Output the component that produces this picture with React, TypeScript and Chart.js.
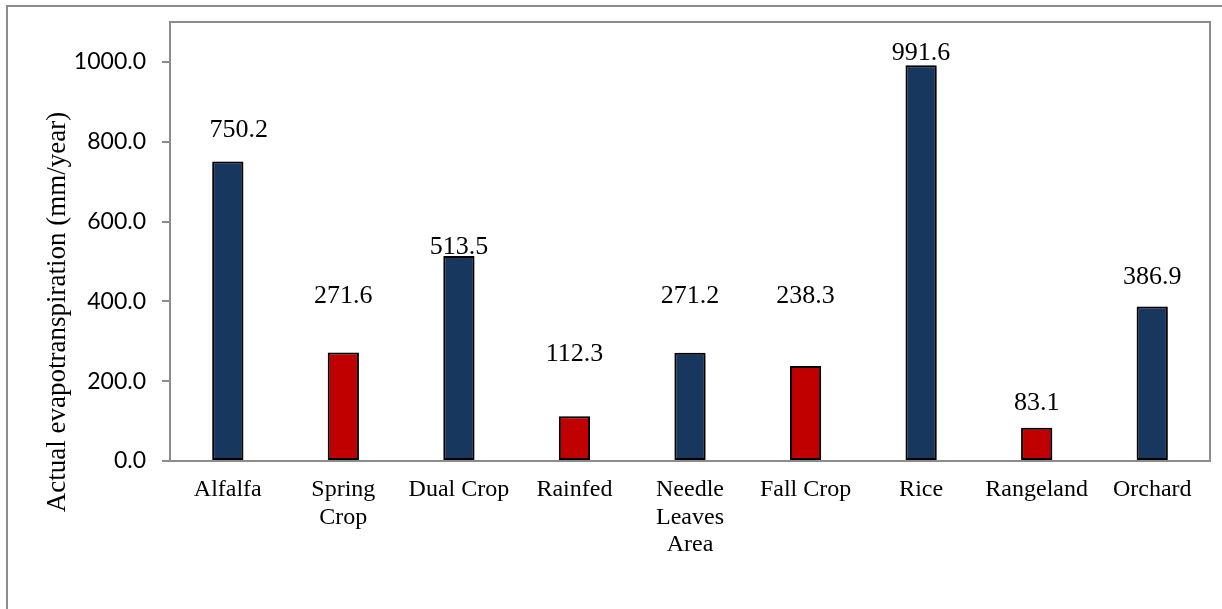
import React, { useEffect, useRef } from "react";
import { Chart, registerables } from "chart.js";

Chart.register(...registerables);

// ---- data ----
const categories: (string | string[])[] = [
  "Alfalfa",
  ["Spring", "Crop"],
  "Dual Crop",
  "Rainfed",
  ["Needle", "Leaves", "Area"],
  "Fall Crop",
  "Rice",
  "Rangeland",
  "Orchard",
];
const etValues = [750.2, 271.6, 513.5, 112.3, 271.2, 238.3, 991.6, 83.1, 386.9];
const barColors = [
  "#17375E", "#C00000", "#17375E", "#C00000", "#17375E",
  "#C00000", "#17375E", "#C00000", "#17375E",
];
const yTickValues = [0, 200, 400, 600, 800, 1000];
const yTitle = "Actual evapotranspiration (mm/year)";

// ---- label placement (px, layout only) ----
const labelLift = [33, 58, 11, 64, 58, 71, 14, 26, 31];
const labelShiftX = [11, 0, 0, 0, 0, 0, 0, 0, 0];

const GRAY = "#8c8c8c";

const framePlugin = {
  id: "frame",
  beforeDraw(chart: any) {
    const ctx = chart.ctx;
    ctx.save();
    ctx.fillStyle = "#ffffff";
    ctx.fillRect(0, 0, chart.width, chart.height);
    ctx.strokeStyle = GRAY;
    ctx.lineWidth = 2;
    ctx.strokeRect(7, 6, chart.width + 50, chart.height + 50);
    ctx.restore();
  },
  beforeDatasetsDraw(chart: any) {
    const ctx = chart.ctx;
    const a = chart.chartArea;
    ctx.save();
    ctx.strokeStyle = GRAY;
    ctx.lineWidth = 2;
    ctx.strokeRect(a.left, a.top, a.right - a.left, a.bottom - a.top);
    ctx.restore();
    ctx.save();
    ctx.shadowColor = "rgba(0,0,0,0.35)";
    ctx.shadowBlur = 4;
    ctx.shadowOffsetX = 2;
    ctx.shadowOffsetY = 2;
  },
  afterDatasetsDraw(chart: any) {
    const ctx = chart.ctx;
    ctx.restore();
    const meta = chart.getDatasetMeta(0);
    ctx.save();
    ctx.fillStyle = "#000";
    ctx.font = '26px "Liberation Serif"';
    ctx.textAlign = "center";
    ctx.textBaseline = "alphabetic";
    meta.data.forEach((bar: any, i: number) => {
      ctx.fillText(etValues[i].toFixed(1), bar.x + labelShiftX[i], bar.y - labelLift[i] + 8.6);
    });
    ctx.restore();
  },
  afterDraw(chart: any) {
    const ctx = chart.ctx;
    ctx.save();
    ctx.fillStyle = "#000";
    ctx.font = '27px "Liberation Serif"';
    ctx.textAlign = "center";
    ctx.textBaseline = "alphabetic";
    ctx.translate(65, 312);
    ctx.rotate(-Math.PI / 2);
    ctx.fillText(yTitle, 0, 0);
    ctx.restore();
  },
};

export default function App() {
  const canvasRef = useRef<HTMLCanvasElement | null>(null);

  useEffect(() => {
    if (!canvasRef.current) return;
    const chart = new Chart(canvasRef.current, {
      type: "bar",
      data: {
        labels: categories as any,
        datasets: [
          {
            data: etValues,
            backgroundColor: barColors,
            borderColor: "#000000",
            borderWidth: 2,
            borderSkipped: false,
            barPercentage: 0.27,
            categoryPercentage: 1.0,
          },
        ],
      },
      options: {
        responsive: false,
        animation: false,
        devicePixelRatio: 1,
        layout: { padding: { top: 22, right: 12, left: 0, bottom: 0 } },
        plugins: {
          legend: { display: false },
          tooltip: { enabled: false },
        },
        scales: {
          x: {
            afterFit: (s: any) => {
              s.height = 148;
              s.paddingLeft = 0;
              s.paddingRight = 0;
            },
            grid: { display: false, drawTicks: false },
            border: { display: false },
            ticks: {
              autoSkip: false,
              maxRotation: 0,
              minRotation: 0,
              padding: 15,
              color: "#000",
              font: { family: "Liberation Serif", size: 24, lineHeight: 1.15 },
            },
          },
          y: {
            min: 0,
            max: 1100,
            afterBuildTicks: (s: any) => {
              s.ticks = yTickValues.map((v) => ({ value: v }));
            },
            afterFit: (s: any) => {
              s.width = 170;
              s.paddingTop = 0;
              s.paddingBottom = 0;
            },
            grid: {
              drawOnChartArea: false,
              drawTicks: true,
              tickLength: 8,
              color: GRAY,
              lineWidth: 2,
            },
            border: { display: false },
            ticks: {
              padding: 16,
              color: "#000",
              font: { family: "Lato", size: 23 },
              callback: (v: any) => Number(v).toFixed(1),
            },
          },
        },
      },
      plugins: [framePlugin],
    });
    return () => chart.destroy();
  }, []);

  return (
    <div style={{ position: "absolute", left: 0, top: 0, width: 1222, height: 609 }}>
      <canvas ref={canvasRef} width={1222} height={609} />
    </div>
  );
}
